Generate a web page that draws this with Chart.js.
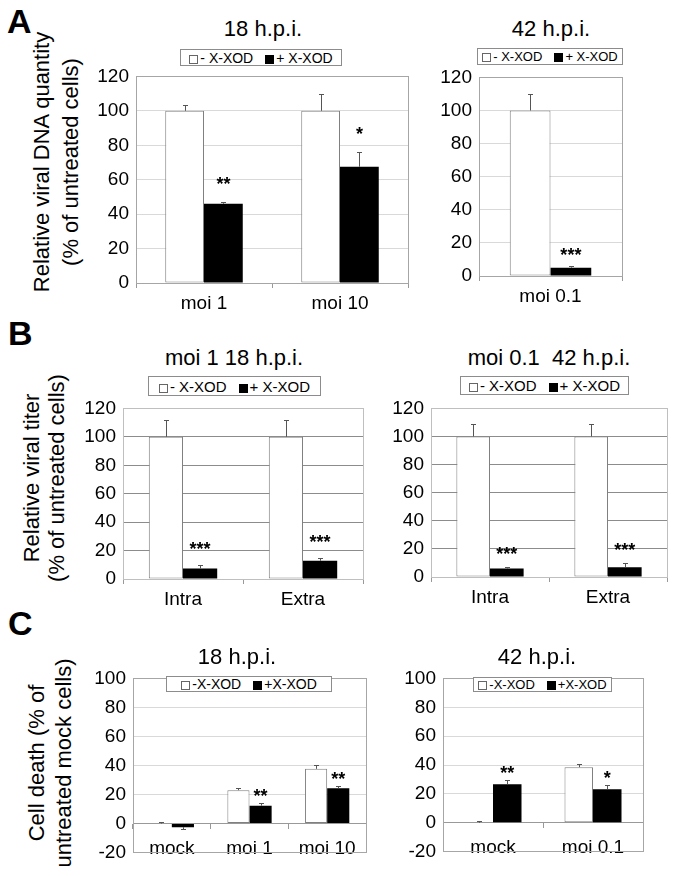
<!DOCTYPE html>
<html>
<head>
<meta charset="utf-8">
<script src="https://cdn.jsdelivr.net/npm/chart.js@4.4.0/dist/chart.umd.min.js"></script>
<style>
  body { margin: 0; background: #fff; }
  #page { position: relative; width: 673px; height: 876px; overflow: hidden; font-family: "Liberation Sans", Arial, sans-serif; color: #000; }
  .wrap { position: absolute; }
  .lbl { position: absolute; white-space: nowrap; }
  .title { font-size: 22px; transform: translateX(-50%); }
  .letter { font-size: 34px; font-weight: bold; }
  .ytitle { position: absolute; white-space: nowrap; text-align: center; transform: translate(-50%, -50%) rotate(-90deg); }
  .legend { position: absolute; box-sizing: border-box; border: 1px solid #8c8c8c; display: flex; align-items: center; justify-content: center; gap: 12px; font-size: 14px; background: #fff; }
  .legend span.sq { display: inline-block; width: 9px; height: 9px; box-sizing: border-box; border: 1px solid #666; margin-right: 2px; vertical-align: -1px; }
  .legend span.sq.black { background: #000; border-color: #000; }
</style>
</head>
<body>
<div id="page"></div>
<script>
const seriesLabels = ['- X-XOD', '+ X-XOD'];
const seriesLabelsC = ['-X-XOD', '+X-XOD'];

// A: relative viral DNA quantity
const catsA1 = ['moi 1', 'moi 10'];
const minusA1 = [100, 100];
const plusA1 = [46, 67.5];
const errMinusA1 = [3.5, 9.7];
const errPlusA1 = [1.2, 8.5];
const starsA1 = ['**', '*'];

const catsA2 = ['moi 0.1'];
const minusA2 = [100];
const plusA2 = [5];
const errMinusA2 = [9.9];
const errPlusA2 = [0.8];
const starsA2 = ['***'];

// B: relative viral titer
const catsB = ['Intra', 'Extra'];
const minusB1 = [100, 100];
const plusB1 = [7.4, 12.8];
const errMinusB1 = [12, 12];
const errPlusB1 = [2.3, 2.2];
const starsB1 = ['***', '***'];

const minusB2 = [100, 100];
const plusB2 = [6, 7];
const errMinusB2 = [9, 9];
const errPlusB2 = [1.2, 3];
const starsB2 = ['***', '***'];

// C: cell death
const catsC1 = ['mock', 'moi 1', 'moi 10'];
const minusC1 = [0, 23, 37.7];
const plusC1 = [-2.5, 12.3, 24.3];
const errMinusC1 = [1, 1.3, 2.7];
const errPlusC1 = [1.5, 1.8, 1.9];
const starsC1 = ['', '**', '**'];

const catsC2 = ['mock', 'moi 0.1'];
const minusC2 = [0, 38.5];
const plusC2 = [26.6, 23.2];
const errMinusC2 = [1.2, 2.1];
const errPlusC2 = [3.3, 2.6];
const starsC2 = ['**', '*'];

const yTicksAB = [0, 120];
const yTicksC = [-20, 100];

const FONT = '"Liberation Sans", Arial, sans-serif';
const page = document.getElementById('page');

function addLabel(cls, text, x, y, extra) {
    const d = document.createElement('div');
    d.className = cls;
    d.innerHTML = text;
    d.style.left = x + 'px';
    d.style.top = y + 'px';
    if (extra) Object.assign(d.style, extra);
    page.appendChild(d);
    return d;
}

function addLegend(labels, x, y, w, h, fs) {
    const d = document.createElement('div');
    d.className = 'legend';
    Object.assign(d.style, { left: x + 'px', top: y + 'px', width: w + 'px', height: h + 'px', fontSize: fs + 'px' });
    d.innerHTML = `<div><span class="sq"></span>${labels[0]}</div><div><span class="sq black"></span>${labels[1]}</div>`;
    page.appendChild(d);
}

const boxPlugin = {
    id: 'plotBox',
    beforeDatasetsDraw(chart, args, opts) {
        const { ctx, chartArea: a } = chart;
        ctx.save();
        ctx.strokeStyle = opts.color;
        ctx.lineWidth = 1;
        ctx.strokeRect(Math.round(a.left) + 0.5, Math.round(a.top) + 0.5, Math.round(a.right - a.left), Math.round(a.bottom - a.top));
        ctx.restore();
    }
};

// error bars plus significance stars above them
const errorPlugin = {
    id: 'errorBars',
    afterDatasetsDraw(chart, args, opts) {
        const { ctx } = chart;
        const y = chart.scales.y;
        chart.data.datasets.forEach((ds, i) => {
            const meta = chart.getDatasetMeta(i);
            meta.data.forEach((bar, j) => {
                const v = ds.data[j];
                const e = ds.errors[j];
                const end = v < 0 ? v - e : v + e;
                const yEnd = Math.round(y.getPixelForValue(end)) + 0.5;
                const x = Math.round(bar.x) + 0.5;
                ctx.save();
                ctx.strokeStyle = '#555';
                ctx.lineWidth = 1;
                ctx.beginPath();
                ctx.moveTo(x, bar.y);
                ctx.lineTo(x, yEnd);
                ctx.moveTo(x - 2.5, yEnd);
                ctx.lineTo(x + 2.5, yEnd);
                ctx.stroke();
                if (ds.stars && ds.stars[j]) {
                    ctx.fillStyle = '#000';
                    ctx.font = 'bold 18px ' + FONT;
                    ctx.textAlign = 'center';
                    ctx.textBaseline = 'middle';
                    const top = Math.max(v + e, 0);
                    ctx.fillText(ds.stars[j], bar.x, y.getPixelForValue(top) - opts.gap);
                }
                ctx.restore();
            });
        });
    }
};

function makeChart(p) {
    const L = 48, T = 12, R = 8, B = p.low ? 12 : 36;
    const wrap = document.createElement('div');
    wrap.className = 'wrap';
    const cw = p.w + L + R, ch = p.h + T + B;
    Object.assign(wrap.style, { left: (p.x - L) + 'px', top: (p.y - T) + 'px', width: cw + 'px', height: ch + 'px' });
    const canvas = document.createElement('canvas');
    canvas.width = cw;
    canvas.height = ch;
    wrap.appendChild(canvas);
    page.appendChild(wrap);

    new Chart(canvas, {
        type: 'bar',
        data: {
            labels: p.cats,
            datasets: [
                { label: p.legend[0], data: p.minus, errors: p.errMinus, backgroundColor: '#fff', borderColor: '#808080',
                  borderWidth: ctx => (ctx.raw === 0 ? 0 : 1), borderSkipped: false },
                { label: p.legend[1], data: p.plus, errors: p.errPlus, stars: p.stars, backgroundColor: '#000', borderColor: '#000', borderWidth: 0 }
            ]
        },
        options: {
            responsive: false,
            animation: false,
            devicePixelRatio: 1,
            layout: { padding: { left: 0, top: T, right: R, bottom: p.low ? B : 0 } },
            datasets: { bar: { categoryPercentage: 0.57, barPercentage: 1 } },
            plugins: { legend: { display: false }, tooltip: { enabled: false }, plotBox: { color: p.boxColor }, errorBars: { gap: p.starGap } },
            scales: {
                x: {
                    position: p.low ? { y: 0 } : 'bottom',
                    grid: { offset: true, drawOnChartArea: false, drawTicks: true, tickLength: 5, color: '#999' },
                    border: { color: '#999' },
                    ticks: { color: '#000', font: { family: FONT, size: 19 }, padding: p.low ? 9 : 4, maxRotation: 0 },
                    afterFit: p.low ? undefined : s => { s.height = B; }
                },
                y: {
                    min: p.yRange[0], max: p.yRange[1],
                    ticks: { stepSize: 20, color: '#000', font: { family: FONT, size: 19 }, padding: 7 },
                    grid: { color: p.gridColor, drawTicks: false },
                    border: { display: false },
                    afterFit: s => { s.width = L; }
                }
            }
        },
        plugins: [boxPlugin, errorPlugin]
    });
}

const gridLight = '#d9d9d9';
const gridDarkB = ctx => (ctx.tick && ctx.tick.value === 120 ? '#c8c8c8' : '#8c8c8c');

makeChart({ x: 136, y: 70, w: 272, h: 213, cats: catsA1, minus: minusA1, plus: plusA1, errMinus: errMinusA1, errPlus: errPlusA1, stars: starsA1, yRange: yTicksAB, legend: seriesLabels, gridColor: gridLight, boxColor: '#a6a6a6', starGap: 17 });
makeChart({ x: 479, y: 71, w: 143, h: 205, cats: catsA2, minus: minusA2, plus: plusA2, errMinus: errMinusA2, errPlus: errPlusA2, stars: starsA2, yRange: yTicksAB, legend: seriesLabels, gridColor: gridLight, boxColor: '#a6a6a6', starGap: 10 });
makeChart({ x: 123, y: 402, w: 240, h: 177, cats: catsB, minus: minusB1, plus: plusB1, errMinus: errMinusB1, errPlus: errPlusB1, stars: starsB1, yRange: yTicksAB, legend: seriesLabels, gridColor: gridDarkB, boxColor: '#bfbfbf', starGap: 15 });
makeChart({ x: 431, y: 402, w: 236, h: 175, cats: catsB, minus: minusB2, plus: plusB2, errMinus: errMinusB2, errPlus: errPlusB2, stars: starsB2, yRange: yTicksAB, legend: seriesLabels, gridColor: gridDarkB, boxColor: '#bfbfbf', starGap: 12 });
makeChart({ x: 133, y: 672, w: 233, h: 187, cats: catsC1, minus: minusC1, plus: plusC1, errMinus: errMinusC1, errPlus: errPlusC1, stars: starsC1, yRange: yTicksC, legend: seriesLabelsC, gridColor: gridLight, boxColor: '#a6a6a6', low: true, starGap: 6 });
makeChart({ x: 443, y: 672, w: 200, h: 186, cats: catsC2, minus: minusC2, plus: plusC2, errMinus: errMinusC2, errPlus: errPlusC2, stars: starsC2, yRange: yTicksC, legend: seriesLabelsC, gridColor: gridLight, boxColor: '#a6a6a6', low: true, starGap: 6 });

// panel letters
addLabel('lbl letter', 'A', 7, 2);
addLabel('lbl letter', 'B', 8, 314);
addLabel('lbl letter', 'C', 8, 604);

// panel titles
addLabel('lbl title', '18 h.p.i.', 263, 16);
addLabel('lbl title', '42 h.p.i.', 551, 16);
addLabel('lbl title', 'moi 1 18 h.p.i.', 234, 345);
addLabel('lbl title', 'moi 0.1&nbsp;&nbsp;42 h.p.i.', 549, 345);
addLabel('lbl title', '18 h.p.i.', 237, 644);
addLabel('lbl title', '42 h.p.i.', 537, 644);

// legends
addLegend(seriesLabels, 180, 49, 162, 17, 14);
addLegend(seriesLabels, 477, 48, 146, 17, 13);
addLegend(seriesLabels, 148, 376, 173, 20, 15);
addLegend(seriesLabels, 460, 376, 169, 19, 15);
addLegend(seriesLabelsC, 166, 676, 166, 16, 14);
addLegend(seriesLabelsC, 473, 677, 139, 15, 13);

// y-axis titles
addLabel('ytitle', 'Relative viral DNA quantity<br>(% of untreated cells)', 56, 162, { fontSize: '22px', lineHeight: '29px' });
addLabel('ytitle', 'Relative viral titer<br>(% of untreated cells)', 44, 478, { fontSize: '22px', lineHeight: '25px' });
addLabel('ytitle', 'Cell death (% of<br>untreated mock cells)', 50, 763, { fontSize: '22px', lineHeight: '27px' });
</script>
</body>
</html>
